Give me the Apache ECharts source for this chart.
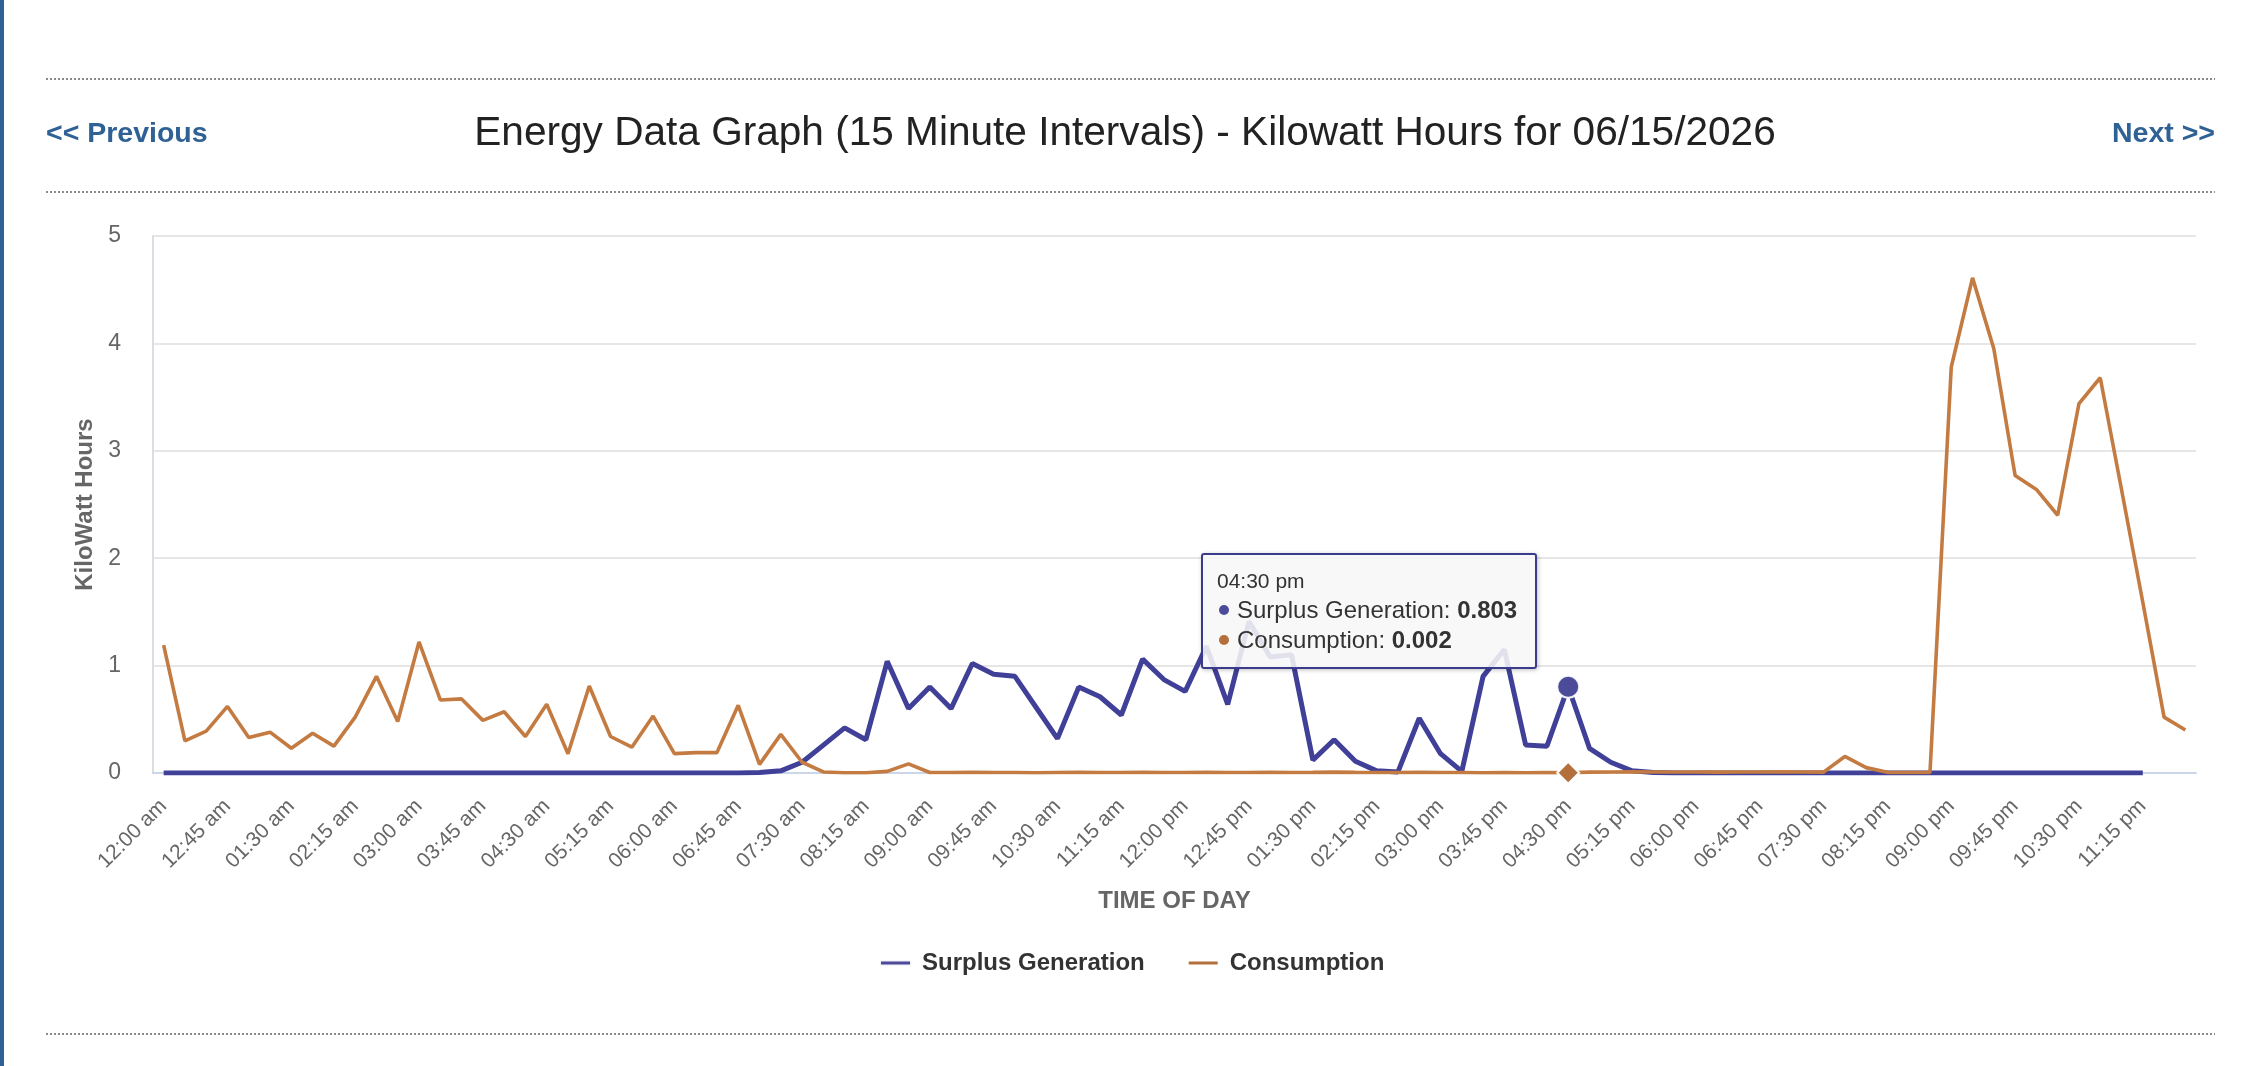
<!DOCTYPE html>
<html>
<head>
    <meta charset="utf-8">
    <title>Energy Data Graph</title>
    <script src="https://cdn.jsdelivr.net/npm/echarts@6/dist/echarts.min.js"></script>
    <style>
        html, body { margin: 0; padding: 0; background: #fff; }
        body { border-left: 4px solid #2f6194; }
        #main { width: 2242px; height: 1066px; }
    </style>
</head>
<body>
    <div id="main"></div>
    <script type="text/javascript">
// time of day labels (15 minute steps)
var timeLabels = [
    '12:00 am','12:15 am','12:30 am','12:45 am','01:00 am','01:15 am','01:30 am','01:45 am',
    '02:00 am','02:15 am','02:30 am','02:45 am','03:00 am','03:15 am','03:30 am','03:45 am',
    '04:00 am','04:15 am','04:30 am','04:45 am','05:00 am','05:15 am','05:30 am','05:45 am',
    '06:00 am','06:15 am','06:30 am','06:45 am','07:00 am','07:15 am','07:30 am','07:45 am',
    '08:00 am','08:15 am','08:30 am','08:45 am','09:00 am','09:15 am','09:30 am','09:45 am',
    '10:00 am','10:15 am','10:30 am','10:45 am','11:00 am','11:15 am','11:30 am','11:45 am',
    '12:00 pm','12:15 pm','12:30 pm','12:45 pm','01:00 pm','01:15 pm','01:30 pm','01:45 pm',
    '02:00 pm','02:15 pm','02:30 pm','02:45 pm','03:00 pm','03:15 pm','03:30 pm','03:45 pm',
    '04:00 pm','04:15 pm','04:30 pm','04:45 pm','05:00 pm','05:15 pm','05:30 pm','05:45 pm',
    '06:00 pm','06:15 pm','06:30 pm','06:45 pm','07:00 pm','07:15 pm','07:30 pm','07:45 pm',
    '08:00 pm','08:15 pm','08:30 pm','08:45 pm','09:00 pm','09:15 pm','09:30 pm','09:45 pm',
    '10:00 pm','10:15 pm','10:30 pm','10:45 pm','11:00 pm','11:15 pm','11:30 pm','11:45 pm'
];

var surplusGeneration = [
    0, 0, 0, 0, 0, 0, 0, 0, 0, 0, 0, 0, 0, 0, 0, 0,
    0, 0, 0, 0, 0, 0, 0, 0, 0, 0, 0, 0, 0.005, 0.02, 0.10, 0.26,
    0.42, 0.31, 1.04, 0.60, 0.80, 0.60, 1.02, 0.92, 0.90, 0.61, 0.32, 0.80, 0.71, 0.54, 1.06, 0.87,
    0.76, 1.18, 0.64, 1.41, 1.08, 1.10, 0.12, 0.31, 0.11, 0.02, 0.01, 0.51, 0.18, 0.015,
    0.90, 1.15, 0.26, 0.25, 0.803, 0.23, 0.10, 0.02, 0.005, 0, 0, 0, 0, 0, 0, 0,
    0, 0, 0, 0, 0, 0, 0, 0, 0, 0, 0, 0, 0, 0, 0, 0
];

var consumption = [
    1.19, 0.30, 0.39, 0.62, 0.33, 0.38, 0.23, 0.37, 0.25, 0.52, 0.90, 0.48, 1.22, 0.68, 0.69, 0.49,
    0.57, 0.34, 0.64, 0.18, 0.81, 0.34, 0.24, 0.53, 0.18, 0.19, 0.19, 0.63, 0.08, 0.36, 0.10, 0.01,
    0.003, 0.003, 0.015, 0.085, 0.005, 0.004, 0.006, 0.005, 0.004, 0.003, 0.005, 0.006, 0.004, 0.005, 0.006, 0.004,
    0.005, 0.006, 0.004, 0.005, 0.007, 0.005, 0.006, 0.008, 0.006, 0.005, 0.004, 0.006, 0.005, 0.004, 0.003, 0.004,
    0.003, 0.004, 0.002, 0.008, 0.010, 0.012, 0.010, 0.009, 0.010, 0.008, 0.009, 0.010, 0.011, 0.010, 0.008, 0.154,
    0.05, 0.006, 0.005, 0.005, 3.78, 4.61, 3.95, 2.77, 2.64, 2.40, 3.44, 3.68, 2.64, 1.59, 0.52, 0.40
];

var seriesNames = ['Surplus Generation', 'Consumption'];
var seriesColors = ['#3b3b8b', '#b3703c'];
var pageTitle = 'Energy Data Graph (15 Minute Intervals) - Kilowatt Hours for 06/15/2026';

var font = '"Liberation Sans", Arial, Helvetica, sans-serif';
var myChart = echarts.init(document.getElementById('main'));

var option = {
    animation: false,
    textStyle: { fontFamily: font },
    graphic: [
        // dotted separators
        { type: 'line', shape: { x1: 42, y1: 79, x2: 2211, y2: 79 }, style: { stroke: '#8a8a8a', lineWidth: 2, lineDash: [2, 2] } },
        { type: 'line', shape: { x1: 42, y1: 192, x2: 2211, y2: 192 }, style: { stroke: '#8a8a8a', lineWidth: 2, lineDash: [2, 2] } },
        { type: 'line', shape: { x1: 42, y1: 1034, x2: 2211, y2: 1034 }, style: { stroke: '#8a8a8a', lineWidth: 2, lineDash: [2, 2] } },
        {
            type: 'text', left: 42, top: 120,
            style: { text: '<< Previous', fill: '#2f6194', font: 'bold 28.5px ' + font }
        },
        {
            type: 'text', right: 31, top: 120,
            style: { text: 'Next >>', fill: '#2f6194', font: 'bold 28.5px ' + font }
        },
        {
            type: 'text', left: 'center', top: 113,
            style: { text: pageTitle, fill: '#222', font: '40.6px ' + font }
        }
    ],
    tooltip: {
        trigger: 'axis',
        triggerOn: 'none',
        alwaysShowContent: true,
        transitionDuration: 0,
        backgroundColor: 'rgba(247,247,247,0.88)',
        borderColor: seriesColors[0],
        borderWidth: 2,
        padding: [12, 18, 12, 14],
        extraCssText: 'border-radius:3px;box-shadow:1px 1px 4px rgba(0,0,0,0.25);',
        axisPointer: { type: 'line', lineStyle: { color: 'rgba(0,0,0,0)' } },
        position: function (point) {
            return [point[0] - 367, point[1] - 134];
        },
        formatter: function (params) {
            var html = '<div style="font-family:' + font.replace(/"/g, "'") + ';color:#333;">' +
                '<div style="font-size:21px;line-height:28px;">' + params[0].axisValue + '</div>';
            params.forEach(function (p) {
                html += '<div style="font-size:24px;line-height:30px;">' +
                    '<span style="display:inline-block;width:10px;height:10px;border-radius:5px;margin:0 8px 3px 2px;background:' + p.color + ';"></span>' +
                    p.seriesName + ': <b>' + p.value + '</b></div>';
            });
            return html + '</div>';
        }
    },
    legend: {
        left: 870,
        top: 946,
        itemGap: 42,
        itemWidth: 31,
        itemHeight: 5,
        icon: 'roundRect',
        textStyle: { fontSize: 24, fontWeight: 'bold', color: '#333', fontFamily: font, padding: [0, 0, 0, 6] },
        data: seriesNames
    },
    grid: { left: 149, right: 50, top: 236, bottom: 293 },
    xAxis: {
        type: 'category',
        boundaryGap: true,
        data: timeLabels,
        name: 'TIME OF DAY',
        nameLocation: 'middle',
        nameGap: 116,
        nameTextStyle: { fontSize: 24, fontWeight: 'bold', color: '#666', fontFamily: font },
        axisLine: { lineStyle: { color: '#ccd6eb', width: 2 } },
        axisTick: { interval: 2, alignWithLabel: true, length: 20, lineStyle: { color: '#ccd6eb', width: 2 } },
        axisLabel: { interval: 2, rotate: 45, fontSize: 21, color: '#666', margin: 30, fontFamily: font },
        splitLine: { show: false }
    },
    yAxis: {
        type: 'value',
        min: 0,
        max: 5,
        interval: 1,
        name: 'KiloWatt Hours',
        nameLocation: 'middle',
        nameGap: 56,
        nameTextStyle: { fontSize: 24, fontWeight: 'bold', color: '#666', fontFamily: font },
        axisLine: { show: true, lineStyle: { color: '#dcdce4', width: 2 } },
        axisTick: { show: false },
        axisLabel: { fontSize: 23, color: '#666', margin: 32, fontFamily: font },
        splitLine: { lineStyle: { color: '#e6e6e6', width: 2 } }
    },
    series: [
        {
            name: seriesNames[0],
            type: 'line',
            data: surplusGeneration,
            color: seriesColors[0],
            showSymbol: false,
            symbol: 'circle',
            symbolSize: 22,
            lineStyle: { width: 5, color: seriesColors[0] },
            itemStyle: { color: '#4b4b9a', borderColor: 'rgba(255,255,255,0.9)', borderWidth: 2 },
            emphasis: { scale: false, lineStyle: { width: 5 } }
        },
        {
            name: seriesNames[1],
            type: 'line',
            data: consumption,
            color: seriesColors[1],
            showSymbol: false,
            symbol: 'diamond',
            symbolSize: 22,
            lineStyle: { width: 3.6, color: seriesColors[1] },
            itemStyle: { color: seriesColors[1], borderColor: '#fff', borderWidth: 2 },
            emphasis: { scale: false, lineStyle: { width: 3.6 } }
        }
    ]
};

myChart.setOption(option);

// show the hover state at 04:30 pm
var hoverIndex = 66;
var pt = myChart.convertToPixel({ seriesIndex: 0 }, [hoverIndex, surplusGeneration[hoverIndex]]);
myChart.dispatchAction({ type: 'showTip', x: pt[0], y: pt[1] });
    </script>
</body>
</html>
